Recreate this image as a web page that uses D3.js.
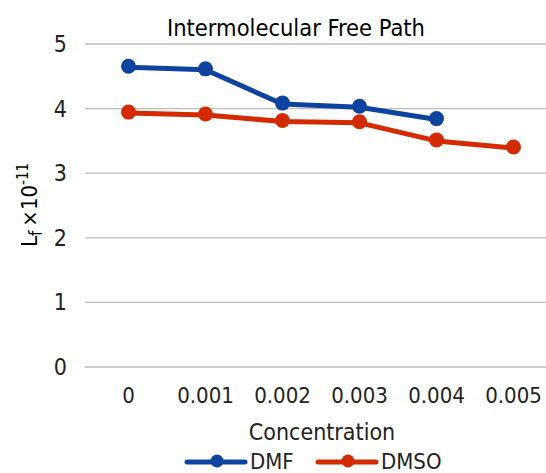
<!DOCTYPE html>
<html><head><meta charset="utf-8">
<script src="https://cdn.jsdelivr.net/npm/d3@7"></script>
<style>html,body{margin:0;padding:0;background:#fff;}svg{display:block;font-family:"DejaVu Sans Condensed","DejaVu Sans",sans-serif;}</style>
</head><body>
<svg id="chart" width="546" height="473"></svg>
<script>
const categories = ["0","0.001","0.002","0.003","0.004","0.005"];
const dmf  = [4.64, 4.60, 4.07, 4.02, 3.83];
const dmso = [3.93, 3.90, 3.80, 3.78, 3.50, 3.39];
const yTicks = [0,1,2,3,4,5];
const seriesNames = ["DMF","DMSO"];
const colors = ["#0E44A0","#D42A00"];

const svg = d3.select("#chart");
const x = d3.scaleBand().domain(categories).range([90, 552]);
const y = d3.scaleLinear().domain([0,5]).range([367, 44]);
const cx = c => x(c) + x.bandwidth()/2;

svg.append("g").selectAll("line").data(yTicks).join("line")
  .attr("x1", 85).attr("x2", 546)
  .attr("y1", d => y(d)).attr("y2", d => y(d))
  .attr("stroke", "#bdbdbd").attr("stroke-width", 1.3);

svg.append("g").selectAll("text").data(yTicks).join("text")
  .attr("x", 67).attr("y", d => y(d) + 8)
  .attr("text-anchor", "end").attr("font-size", 23).attr("fill", "#222")
  .text(d => d);

svg.append("g").selectAll("text").data(categories).join("text")
  .attr("x", d => cx(d)).attr("y", 403)
  .attr("text-anchor", "middle").attr("font-size", 22).attr("fill", "#222")
  .text(d => d);

svg.append("text").attr("x", 296).attr("y", 36).attr("text-anchor", "middle")
  .attr("font-size", 23).attr("fill", "#000").attr("textLength", 258)
  .attr("lengthAdjust", "spacingAndGlyphs").text("Intermolecular Free Path");

svg.append("text").attr("x", 322).attr("y", 440).attr("text-anchor", "middle")
  .attr("font-size", 23).attr("fill", "#222").text("Concentration");

const yt = svg.append("text").attr("transform", "translate(37,205) rotate(-90)")
  .attr("text-anchor", "middle").attr("font-size", 22).attr("fill", "#000");
yt.append("tspan").text("L");
yt.append("tspan").attr("font-size", 17).attr("dy", 5).text("f");
yt.append("tspan").attr("dy", -5).attr("dx", 4).text("×10");
yt.append("tspan").attr("font-size", 15).attr("dy", -9).text("-11");

const line = d3.line().x((d,i) => cx(categories[i])).y(d => y(d));
[dmf, dmso].forEach((data, k) => {
  const g = svg.append("g");
  g.append("path").datum(data).attr("d", line).attr("fill", "none")
    .attr("stroke", colors[k]).attr("stroke-width", 5).attr("stroke-linejoin", "round");
  g.selectAll("circle").data(data).join("circle")
    .attr("cx", (d,i) => cx(categories[i])).attr("cy", d => y(d) - 1)
    .attr("r", 7.5).attr("fill", colors[k]);
});

const legend = [{x: 187}, {x: 318}];
legend.forEach((l, k) => {
  const g = svg.append("g");
  g.append("line").attr("x1", l.x).attr("x2", l.x + 58).attr("y1", 462).attr("y2", 462)
    .attr("stroke", colors[k]).attr("stroke-width", 5).attr("stroke-linecap", "round");
  g.append("circle").attr("cx", l.x + 30).attr("cy", 461).attr("r", 6.5).attr("fill", colors[k]);
  g.append("text").attr("x", l.x + 63).attr("y", 469).attr("font-size", 22).attr("fill", "#222")
    .text(seriesNames[k]);
});
</script>
</body></html>
